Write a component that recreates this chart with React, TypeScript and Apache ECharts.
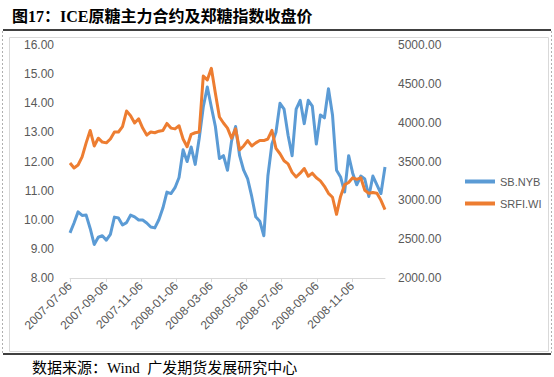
import React, { useEffect, useRef } from "react";
import * as echarts from "echarts";

// Axis range (daily date axis, Excel-style 2-month major unit)
const startDate = "2007-07-06";
const endDate = "2009-01-02";

// Weekly samples (every 7 days from startDate)
// SB.NYB — ICE raw sugar main contract (left axis)
const sbNyb = [
  9.55, 9.89, 10.27, 10.15, 10.16, 9.7, 9.15, 9.4, 9.45, 9.3,
  9.5, 10.09, 10.06, 9.82, 9.9, 10.16, 10.1, 9.99, 9.99, 9.89,
  9.75, 9.72, 10.0, 10.4, 10.95, 10.9, 11.1, 11.45, 12.4, 12.0,
  12.5, 11.9, 12.8, 13.87, 14.56, 13.87, 13.2, 12.1, 12.2, 11.7,
  12.7, 13.2, 12.2, 11.7, 11.4, 10.8, 10.1, 9.95, 9.45, 11.5,
  12.6, 13.0, 14.0, 13.8, 12.9, 12.2, 13.8, 14.1, 13.3, 14.1,
  13.9, 12.6, 13.6, 13.5, 14.5, 13.6, 11.7, 11.47, 10.95, 12.2,
  11.6, 11.2, 11.5, 11.4, 10.8, 11.5, 11.2, 10.9, 11.81,
];
// SRFI.WI — Zhengzhou sugar index (right axis)
const srfiWi = [
  3480, 3416, 3455, 3560, 3740, 3900, 3700, 3800, 3750, 3740,
  3790, 3880, 3880, 3950, 4150, 4090, 3996, 4050, 3930, 3840,
  3880, 3870, 3890, 3900, 3990, 3930, 3920, 3960, 3790, 3690,
  3850, 3870, 3880, 4600, 4550, 4700, 4380, 4073, 3996, 3930,
  3800, 3920, 3650, 3700, 3770, 3700, 3740, 3770, 3770, 3790,
  3900, 3670, 3600, 3510, 3470, 3360, 3300, 3350, 3410, 3310,
  3350, 3290, 3250, 3180, 3090, 3040, 2820, 3050, 3200, 3230,
  3290, 3270, 3290, 3130, 3090, 3100, 3090, 3000, 2880,
];

const seriesNames = ["SB.NYB", "SRFI.WI"];
const labelMonths = ["01", "03", "05", "07", "09", "11"];
const leftAxis = { min: 8, max: 16, interval: 1 };
const rightAxis = { min: 2000, max: 5000, interval: 500 };
const titleText = "图17：ICE原糖主力合约及郑糖指数收盘价";
const sourceText = "数据来源：Wind  广发期货发展研究中心";

const DAY = 86400000;
function addDays(iso: string, n: number): string {
  return new Date(Date.parse(iso + "T00:00:00Z") + n * DAY).toISOString().slice(0, 10);
}

export default function App() {
  const ref = useRef<HTMLDivElement>(null);
  useEffect(() => {
    if (!ref.current) return;
    const chart = echarts.init(ref.current, undefined, { renderer: "svg" });

    const categories: string[] = [];
    for (let d = startDate; d <= endDate; d = addDays(d, 1)) categories.push(d);
    const idxOf = (i: number) => i * 7;
    const showTick = (_i: number, v: string) =>
      v.slice(8) === "06" && labelMonths.includes(v.slice(5, 7));

    const axisFont = "'Liberation Sans', Arial, sans-serif";
    const serifFont = "'Liberation Serif', 'Times New Roman', 'Noto Sans CJK SC', serif";

    chart.setOption({
      animation: false,
      backgroundColor: "#ffffff",
      grid: { left: 70, right: 169, top: 45, bottom: 99, containLabel: false },
      legend: {
        orient: "vertical",
        left: 460,
        top: 171,
        itemWidth: 30,
        itemHeight: 4,
        itemGap: 11,
        icon: "rect",
        data: seriesNames,
        textStyle: { color: "#595959", fontSize: 11, fontFamily: axisFont },
      },
      xAxis: {
        type: "category",
        data: categories,
        boundaryGap: false,
        axisLine: { lineStyle: { color: "#d9d9d9", width: 1 } },
        axisTick: { interval: showTick, length: 4, lineStyle: { color: "#d9d9d9" } },
        axisLabel: {
          interval: showTick,
          rotate: 45,
          margin: 6,
          color: "#595959",
          fontSize: 12,
          fontFamily: axisFont,
        },
        splitLine: { show: false },
      },
      yAxis: [
        {
          type: "value",
          ...leftAxis,
          axisLine: { show: false },
          axisTick: { show: false },
          splitLine: { show: false },
          axisLabel: {
            margin: 16,
            color: "#595959",
            fontSize: 12,
            fontFamily: axisFont,
            formatter: (v: number) => v.toFixed(2),
          },
        },
        {
          type: "value",
          ...rightAxis,
          position: "right",
          axisLine: { show: false },
          axisTick: { show: false },
          splitLine: { show: false },
          axisLabel: {
            margin: 13,
            color: "#595959",
            fontSize: 12,
            fontFamily: axisFont,
            formatter: (v: number) => v.toFixed(2),
          },
        },
      ],
      series: [
        {
          name: seriesNames[0],
          type: "line",
          yAxisIndex: 0,
          showSymbol: false,
          symbol: "none",
          color: "#5B9BD5",
          lineStyle: { width: 3, color: "#5B9BD5", join: "round" },
          data: sbNyb.map((v, i) => [idxOf(i), v]),
        },
        {
          name: seriesNames[1],
          type: "line",
          yAxisIndex: 1,
          showSymbol: false,
          symbol: "none",
          color: "#ED7D31",
          lineStyle: { width: 3, color: "#ED7D31", join: "round" },
          data: srfiWi.map((v, i) => [idxOf(i), v]),
        },
      ],
      graphic: [
        {
          type: "text",
          x: 12,
          y: 16,
          style: {
            text: titleText,
            fill: "#000000",
            font: "bold 16px " + serifFont,
            verticalAlign: "middle",
          },
        },
        { type: "line", shape: { x1: 3, y1: 30, x2: 551, y2: 30 }, style: { stroke: "#000", lineWidth: 1.5 } },
        { type: "line", shape: { x1: 3, y1: 354, x2: 551, y2: 354 }, style: { stroke: "#000", lineWidth: 1.5 } },
        { type: "line", shape: { x1: 2.5, y1: 31, x2: 2.5, y2: 353 }, style: { stroke: "#b0b0b0", lineWidth: 1, lineDash: [2, 2] } },
        { type: "line", shape: { x1: 551.5, y1: 31, x2: 551.5, y2: 353 }, style: { stroke: "#b0b0b0", lineWidth: 1, lineDash: [2, 2] } },
        {
          type: "rect",
          shape: { x: 9.5, y: 37.5, width: 539, height: 314 },
          style: { fill: "none", stroke: "#d9d9d9", lineWidth: 1 },
          z: -1,
        },
        {
          type: "text",
          x: 32,
          y: 368,
          style: {
            text: sourceText,
            fill: "#000000",
            font: "15px " + serifFont,
            verticalAlign: "middle",
          },
        },
      ],
    });
    return () => chart.dispose();
  }, []);

  return (
    <div
      ref={ref}
      style={{ position: "absolute", left: 0, top: 0, width: 554, height: 377 }}
    />
  );
}
